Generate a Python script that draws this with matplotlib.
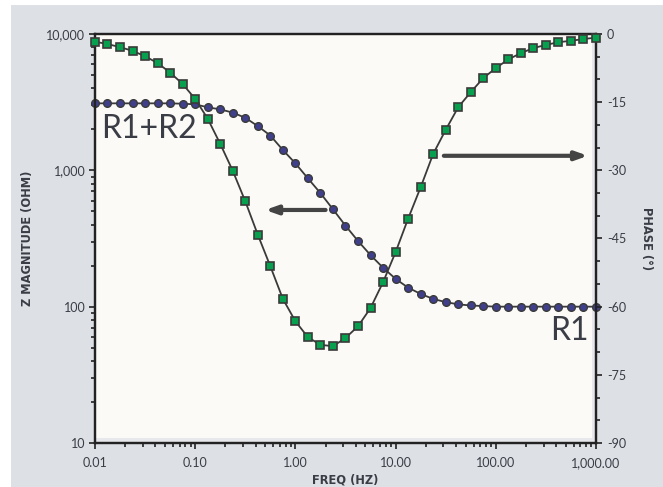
import matplotlib
matplotlib.use("Agg")
import matplotlib.pyplot as plt
from matplotlib.patches import Rectangle
from matplotlib.ticker import FixedLocator, FuncFormatter, LogLocator, NullFormatter

plt.rcParams['font.family'] = ['Lato', 'DejaVu Sans']

# frequencies, 8 points per decade
freq = [0.01, 0.0133, 0.0178, 0.0237, 0.0316, 0.0422, 0.0562, 0.075,
        0.1, 0.133, 0.178, 0.237, 0.316, 0.422, 0.562, 0.75,
        1.0, 1.33, 1.78, 2.37, 3.16, 4.22, 5.62, 7.5,
        10, 13.3, 17.8, 23.7, 31.6, 42.2, 56.2, 75,
        100, 133, 178, 237, 316, 422, 562, 750, 1000]

# |Z| in ohm
zmag = [3100, 3100, 3100, 3100, 3100, 3100, 3100, 3080,
        3050, 2900, 2800, 2650, 2430, 2110, 1800, 1410,
        1125, 875, 680, 518, 393, 303, 239, 193,
        160, 138, 124, 114, 108, 104, 102, 101,
        100, 100, 100, 100, 100, 100, 100, 100, 100]

# phase in degrees
phase = [-1.7, -2.2, -2.9, -3.7, -4.9, -6.4, -8.5, -11.0,
         -14.3, -18.6, -24.2, -30.1, -36.8, -44.2, -51.1, -58.3,
         -63.2, -66.7, -68.4, -68.7, -66.9, -64.3, -60.3, -54.6,
         -48.0, -40.7, -33.7, -26.4, -21.1, -16.1, -12.8, -9.7,
         -7.5, -5.6, -4.2, -3.1, -2.4, -1.8, -1.5, -1.1, -0.8]

x_ticks = [0.01, 0.1, 1, 10, 100, 1000]
z_ticks = [10, 100, 1000, 10000]
phase_ticks = [0, -15, -30, -45, -60, -75, -90]

txt_col = '#3a3d45'
line_col = '#3a3a3a'

fig = plt.figure(figsize=(6.63, 4.87), dpi=100, facecolor='white')
fig.patches.append(Rectangle((11 / 663, 0), 1, 482 / 487, transform=fig.transFigure,
                             facecolor='#dde0e5', edgecolor='none', zorder=-10))

ax = fig.add_axes([95 / 663, 44 / 487, 501 / 663, 409 / 487])
ax.set_facecolor('#e6e8eb')
ax.add_patch(Rectangle((0, 0.012), 0.993, 0.988, transform=ax.transAxes,
                       facecolor='#fbfaf6', edgecolor='none', zorder=0.5))
ax2 = ax.twinx()

ax.plot(freq, zmag, '-', color=line_col, lw=1.3, marker='o', ms=5.5,
        mfc='#3f3f8c', mec=line_col, mew=1.0, clip_on=False, zorder=3)
ax2.plot(freq, phase, '-', color=line_col, lw=1.3, marker='s', ms=6,
         mfc='#07a04e', mec=line_col, mew=1.2, clip_on=False, zorder=3)

ax.set_xscale('log')
ax.set_yscale('log')
ax.set_xlim(0.01, 1000)
ax.set_ylim(10, 10000)
ax2.set_ylim(-90, 0)

ax.xaxis.set_major_locator(FixedLocator(x_ticks))
ax.xaxis.set_minor_locator(LogLocator(base=10, subs=range(2, 10)))
ax.xaxis.set_major_formatter(FuncFormatter(lambda v, p: f"{v:,.2f}"))
ax.xaxis.set_minor_formatter(NullFormatter())
ax.yaxis.set_major_locator(FixedLocator(z_ticks))
ax.yaxis.set_minor_locator(LogLocator(base=10, subs=range(2, 10)))
ax.yaxis.set_major_formatter(FuncFormatter(lambda v, p: f"{v:,.0f}"))
ax.yaxis.set_minor_formatter(NullFormatter())
ax2.yaxis.set_major_locator(FixedLocator(phase_ticks))
ax2.yaxis.set_minor_locator(FixedLocator(range(-90, 1, 5)))
ax2.yaxis.set_major_formatter(FuncFormatter(lambda v, p: f"{int(round(v))}"))

for a in (ax, ax2):
    for s in a.spines.values():
        s.set_color('#222222')
        s.set_linewidth(1.6)
    a.tick_params(which='both', direction='out', color='#222222', width=1.2,
                  labelsize=9, labelcolor=txt_col)
    a.tick_params(which='major', length=4)
    a.tick_params(which='minor', length=3)
ax.tick_params(axis='x', pad=6)
ax.tick_params(axis='y', pad=3)
ax2.tick_params(axis='y', pad=4)

lab = dict(fontsize=8.3, fontweight='bold', color=txt_col, family='DejaVu Sans')
ax.set_xlabel('FREQ (HZ)', labelpad=3, **lab)
ax.set_ylabel('Z MAGNITUDE (OHM)', labelpad=9, **lab)
ax2.set_ylabel('PHASE (°)', rotation=-90, labelpad=19, **lab)

# curve labels
ax.text(0.012, 0.768, 'R1+R2', transform=ax.transAxes, fontsize=23,
        color=txt_col, ha='left', va='center')
ax.text(0.908, 0.274, 'R1', transform=ax.transAxes, fontsize=23,
        color=txt_col, ha='left', va='center')

# arrows pointing to the matching axis
arrow = dict(arrowstyle='-|>,head_length=0.7,head_width=0.25', lw=3,
             color='#444444', shrinkA=0, shrinkB=0)
mag_arrow = ((2.0, 512), (0.5, 512))
phase_arrow = ((30.3, -26.8), (830, -26.8))
ax.annotate('', xy=mag_arrow[1], xytext=mag_arrow[0], arrowprops=arrow, zorder=4)
ax2.annotate('', xy=phase_arrow[1], xytext=phase_arrow[0], arrowprops=arrow, zorder=4)

fig.savefig('out.png', dpi=100, facecolor=fig.get_facecolor())
